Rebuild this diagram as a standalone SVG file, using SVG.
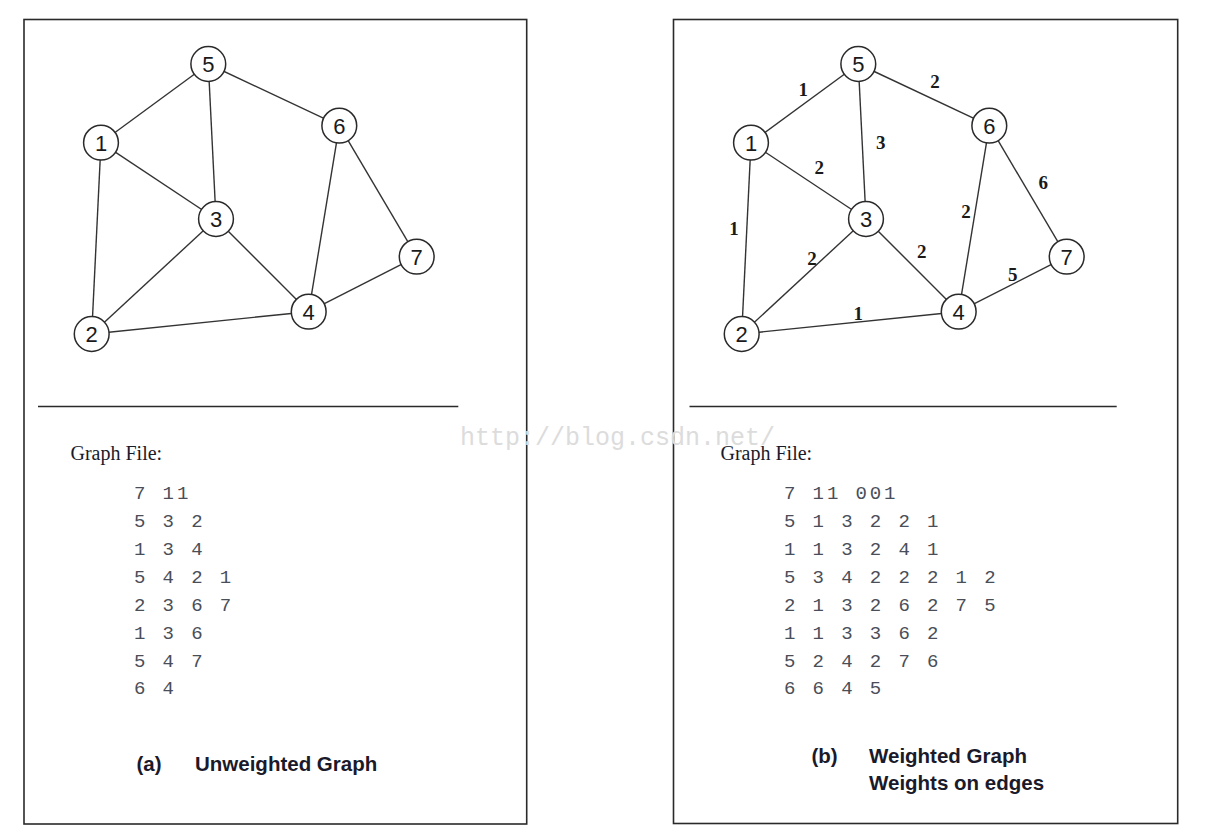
<svg xmlns="http://www.w3.org/2000/svg" width="1230" height="839" viewBox="0 0 1230 839">
<style>
.frame{fill:none;stroke:#2a2a2a;stroke-width:1.6}
.sep{stroke:#2a2a2a;stroke-width:1.6}
.edge{stroke:#333;stroke-width:1.4}
.node circle{fill:#fff;stroke:#2a2a2a;stroke-width:1.5}
.node text{font-family:"Liberation Sans",Arial,sans-serif;font-size:22px;fill:#1a1a1a;text-anchor:middle}
.w{font-family:"Liberation Serif","Times New Roman",serif;font-size:19px;font-weight:bold;fill:#1a1a1a;text-anchor:middle}
.gf{font-family:"Liberation Serif","Times New Roman",serif;font-size:20px;fill:#1a1a2a}
.mono{font-family:"Liberation Mono","Courier New",monospace;font-size:19px;letter-spacing:2.9px;fill:#4a4e58}
.cap{font-family:"Liberation Sans",Arial,sans-serif;font-size:20.5px;font-weight:bold;fill:#1a1a2a}
.wm{font-family:"Liberation Mono","Courier New",monospace;font-size:25px;fill:#dcdcdc}
</style>
<rect width="1230" height="839" fill="#fff"/>
<rect class="frame" x="24" y="19.5" width="502.7" height="804.5"/>
<rect class="frame" x="673.5" y="19.5" width="504.2" height="804"/>
<line class="sep" x1="38" y1="406.5" x2="458.3" y2="406.5"/>
<line class="sep" x1="689.5" y1="406.5" x2="1116.7" y2="406.5"/>
<text class="wm" x="460" y="445">http://blog.csdn.net/</text>
<g id="connectors">
<g id="edges-a">
<line class="edge" x1="208.3" y1="64" x2="101" y2="142.7"/>
<line class="edge" x1="208.3" y1="64" x2="216" y2="219"/>
<line class="edge" x1="208.3" y1="64" x2="339.3" y2="125.7"/>
<line class="edge" x1="101" y1="142.7" x2="216" y2="219"/>
<line class="edge" x1="101" y1="142.7" x2="91.7" y2="334"/>
<line class="edge" x1="216" y1="219" x2="91.7" y2="334"/>
<line class="edge" x1="216" y1="219" x2="308.7" y2="311.7"/>
<line class="edge" x1="339.3" y1="125.7" x2="308.7" y2="311.7"/>
<line class="edge" x1="339.3" y1="125.7" x2="416.7" y2="256.7"/>
<line class="edge" x1="416.7" y1="256.7" x2="308.7" y2="311.7"/>
<line class="edge" x1="91.7" y1="334" x2="308.7" y2="311.7"/>
</g>
<g id="edges-b">
<line class="edge" x1="858.3" y1="64" x2="751" y2="142.7"/>
<line class="edge" x1="858.3" y1="64" x2="866" y2="219"/>
<line class="edge" x1="858.3" y1="64" x2="989.3" y2="125.7"/>
<line class="edge" x1="751" y1="142.7" x2="866" y2="219"/>
<line class="edge" x1="751" y1="142.7" x2="741.7" y2="334"/>
<line class="edge" x1="866" y1="219" x2="741.7" y2="334"/>
<line class="edge" x1="866" y1="219" x2="958.7" y2="311.7"/>
<line class="edge" x1="989.3" y1="125.7" x2="958.7" y2="311.7"/>
<line class="edge" x1="989.3" y1="125.7" x2="1066.7" y2="256.7"/>
<line class="edge" x1="1066.7" y1="256.7" x2="958.7" y2="311.7"/>
<line class="edge" x1="741.7" y1="334" x2="958.7" y2="311.7"/>
</g>
<g id="weights">
<text class="w" x="803.3" y="95.7">1</text>
<text class="w" x="935" y="88">2</text>
<text class="w" x="880.7" y="149">3</text>
<text class="w" x="819.3" y="174">2</text>
<text class="w" x="1043.3" y="189">6</text>
<text class="w" x="734" y="234.7">1</text>
<text class="w" x="966" y="218">2</text>
<text class="w" x="812" y="264.7">2</text>
<text class="w" x="921.7" y="258">2</text>
<text class="w" x="1012.7" y="281.4">5</text>
<text class="w" x="858.3" y="320.4">1</text>
</g>
</g>
<g id="a5" class="node"><circle cx="208.3" cy="64" r="17.4"/><text x="208.3" y="72">5</text></g>
<g id="a1" class="node"><circle cx="101" cy="142.7" r="17.4"/><text x="101" y="150.7">1</text></g>
<g id="a6" class="node"><circle cx="339.3" cy="125.7" r="17.4"/><text x="339.3" y="133.7">6</text></g>
<g id="a3" class="node"><circle cx="216" cy="219" r="17.4"/><text x="216" y="227">3</text></g>
<g id="a7" class="node"><circle cx="416.7" cy="256.7" r="17.4"/><text x="416.7" y="264.7">7</text></g>
<g id="a4" class="node"><circle cx="308.7" cy="311.7" r="17.4"/><text x="308.7" y="319.7">4</text></g>
<g id="a2" class="node"><circle cx="91.7" cy="334" r="17.4"/><text x="91.7" y="342">2</text></g>
<g id="b5" class="node"><circle cx="858.3" cy="64" r="17.4"/><text x="858.3" y="72">5</text></g>
<g id="b1" class="node"><circle cx="751" cy="142.7" r="17.4"/><text x="751" y="150.7">1</text></g>
<g id="b6" class="node"><circle cx="989.3" cy="125.7" r="17.4"/><text x="989.3" y="133.7">6</text></g>
<g id="b3" class="node"><circle cx="866" cy="219" r="17.4"/><text x="866" y="227">3</text></g>
<g id="b7" class="node"><circle cx="1066.7" cy="256.7" r="17.4"/><text x="1066.7" y="264.7">7</text></g>
<g id="b4" class="node"><circle cx="958.7" cy="311.7" r="17.4"/><text x="958.7" y="319.7">4</text></g>
<g id="b2" class="node"><circle cx="741.7" cy="334" r="17.4"/><text x="741.7" y="342">2</text></g>
<g id="file-a">
<text class="gf" x="70.5" y="460">Graph File:</text>
<text class="mono" x="134"><tspan x="134" y="498.5">7 11</tspan><tspan x="134" y="526.5">5 3 2</tspan><tspan x="134" y="554.5">1 3 4</tspan><tspan x="134" y="582.5">5 4 2 1</tspan><tspan x="134" y="610.5">2 3 6 7</tspan><tspan x="134" y="638.5">1 3 6</tspan><tspan x="134" y="666.5">5 4 7</tspan><tspan x="134" y="694">6 4</tspan></text>
</g>
<g id="file-b">
<text class="gf" x="720.5" y="460">Graph File:</text>
<text class="mono" x="784"><tspan x="784" y="498.5">7 11 001</tspan><tspan x="784" y="526.5">5 1 3 2 2 1</tspan><tspan x="784" y="554.5">1 1 3 2 4 1</tspan><tspan x="784" y="582.5">5 3 4 2 2 2 1 2</tspan><tspan x="784" y="610.5">2 1 3 2 6 2 7 5</tspan><tspan x="784" y="638.5">1 1 3 3 6 2</tspan><tspan x="784" y="666.5">5 2 4 2 7 6</tspan><tspan x="784" y="694">6 6 4 5</tspan></text>
</g>
<g id="caption-a">
<text class="cap" x="136.5" y="771">(a)</text>
<text class="cap" x="195" y="771">Unweighted Graph</text>
</g>
<g id="caption-b">
<text class="cap" x="811.5" y="763">(b)</text>
<text class="cap" x="869" y="763">Weighted Graph</text>
<text class="cap" x="869" y="789.5">Weights on edges</text>
</g>
</svg>
